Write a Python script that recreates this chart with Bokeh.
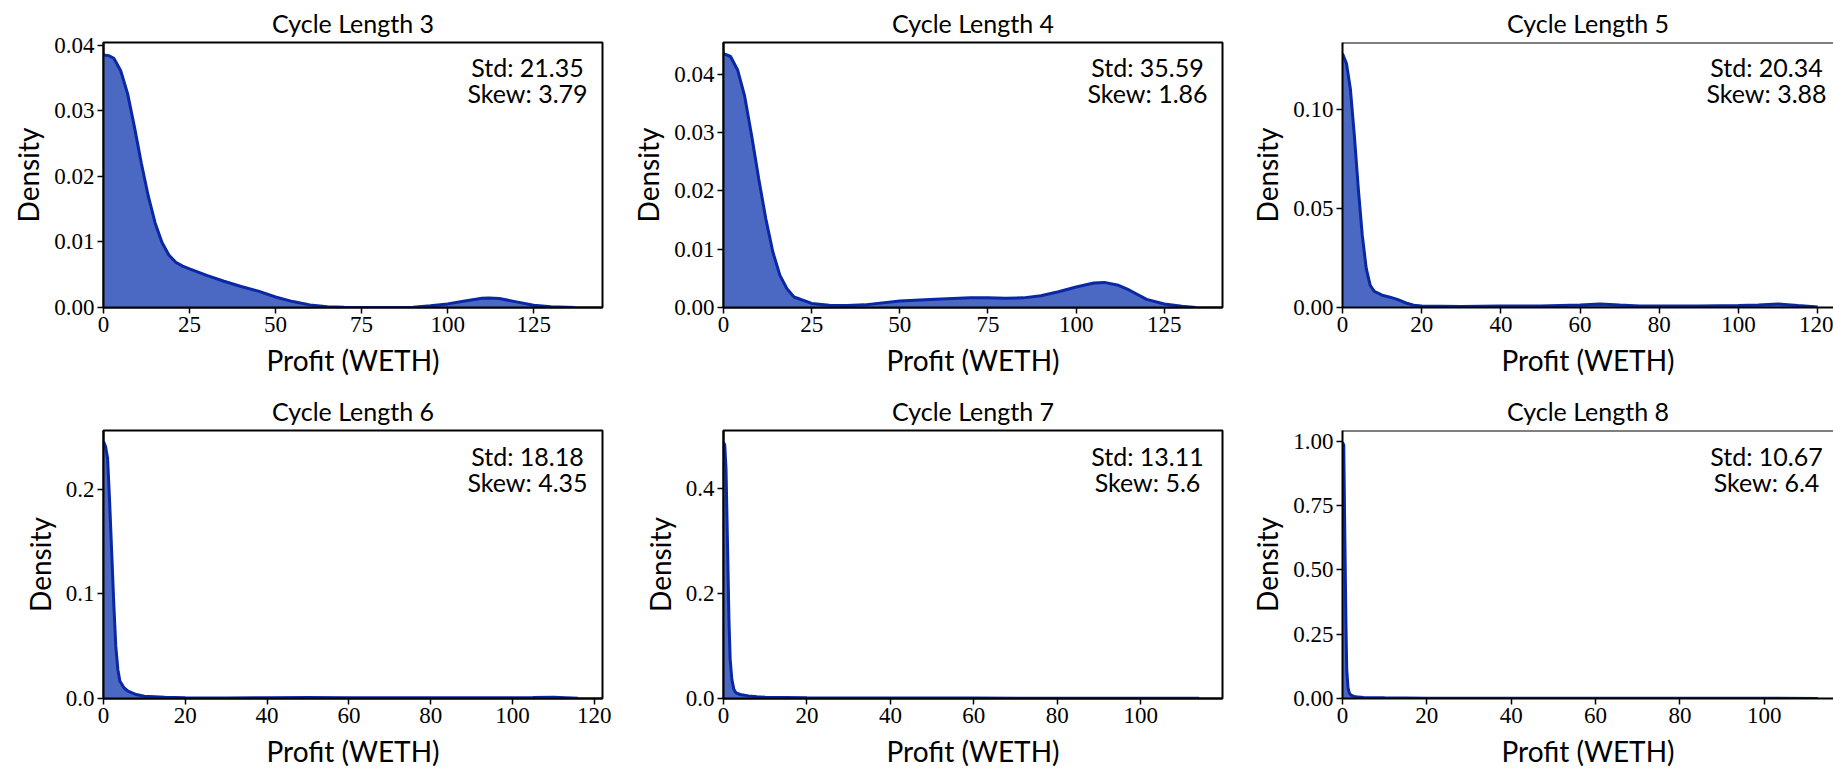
from bokeh.plotting import figure
from bokeh.layouts import column, row
from bokeh.models import FixedTicker, Span, Label, Range1d
from bokeh.embed import file_html
from bokeh.resources import INLINE

# ---------------- data ----------------
titles = ["Cycle Length 3", "Cycle Length 4", "Cycle Length 5",
          "Cycle Length 6", "Cycle Length 7", "Cycle Length 8"]
std_values = [21.35, 35.59, 20.34, 18.18, 13.11, 10.67]
skew_values = [3.79, 1.86, 3.88, 4.35, 5.6, 6.4]

x_limits = [145.0, 141.5, 126.0, 122.0, 119.6, 118.3]
y_limits = [0.0404, 0.0454, 0.1336, 0.2564, 0.5096, 1.0417]

cl3_x = [0, 1.5, 3, 5, 7, 9, 11, 13, 15, 17, 19, 21, 23, 25, 30, 35, 40, 45, 50, 55, 60, 65, 70,
         80, 90, 95, 100, 105, 110, 112, 115, 120, 125, 130, 137]
cl3_y = [0.0385, 0.0384, 0.0380, 0.0361, 0.0326, 0.0275, 0.0220, 0.0170, 0.0129, 0.0099, 0.0080,
         0.0069, 0.0063, 0.0059, 0.0049, 0.0040, 0.0032, 0.0025, 0.0016, 0.0009, 0.0004, 0.0001, 0.00002,
         0.0, 0.00005, 0.00025, 0.00055, 0.0010, 0.0014, 0.00146, 0.00136, 0.00086, 0.00035, 0.0001, 0.0]

cl4_x = [0, 2, 4, 6, 8, 10, 12, 14, 16, 18, 20, 25, 30, 35, 40, 50, 60, 70, 75, 80, 85, 90,
         95, 100, 105, 108, 112, 115, 120, 125, 130, 134]
cl4_y = [0.0435, 0.0430, 0.0407, 0.0362, 0.0294, 0.0220, 0.0152, 0.0095, 0.0055, 0.0032, 0.0018,
         0.0007, 0.0004, 0.00035, 0.00045, 0.0011, 0.0014, 0.00165, 0.00165, 0.0016, 0.00165, 0.0020,
         0.0027, 0.0035, 0.0042, 0.0043, 0.0038, 0.0030, 0.0014, 0.0006, 0.0002, 0.0]

cl5_x = [0, 1, 2, 3, 4, 5, 6, 7, 8, 10, 12, 14, 16, 18, 20, 30, 40, 50, 60, 65, 70, 75, 80,
         90, 100, 105, 110, 115, 120]
cl5_y = [0.128, 0.123, 0.110, 0.0865, 0.0597, 0.0363, 0.0196, 0.0112, 0.0082, 0.0062, 0.0052,
         0.0040, 0.0023, 0.0012, 0.0007, 0.0005, 0.0007, 0.0008, 0.0013, 0.0018, 0.0012, 0.0008,
         0.0008, 0.0008, 0.0010, 0.0013, 0.0018, 0.0010, 0.0003]

cl6_x = [0, 0.5, 1, 1.5, 2, 2.5, 3, 3.5, 4, 5, 6, 8, 10, 15, 20, 30, 40, 50, 60, 70, 80, 90,
         100, 105, 110, 116]
cl6_y = [0.2458, 0.241, 0.2298, 0.188, 0.140, 0.092, 0.0503, 0.028, 0.0167, 0.0103, 0.007,
         0.0038, 0.0022, 0.0013, 0.0006, 0.0005, 0.0007, 0.0010, 0.0008, 0.0006, 0.0006, 0.0006,
         0.0008, 0.0010, 0.0013, 0.0002]

cl7_x = [0, 0.3, 0.6, 1, 1.3, 1.6, 2, 2.5, 3, 4, 6, 8, 10, 15, 20, 40, 60, 80, 100, 114]
cl7_y = [0.487, 0.482, 0.437, 0.278, 0.151, 0.0745, 0.036, 0.017, 0.0108, 0.0076, 0.0050,
         0.0032, 0.0025, 0.0019, 0.0013, 0.0008, 0.0008, 0.0005, 0.0005, 0.0003]

cl8_x = [0, 0.3, 0.5, 0.8, 1, 1.3, 1.6, 2, 3, 5, 10, 20, 40, 60, 80, 100, 112.7]
cl8_y = [0.996, 0.985, 0.70, 0.309, 0.113, 0.042, 0.022, 0.013, 0.0065, 0.004, 0.0026,
         0.0013, 0.0010, 0.0008, 0.0008, 0.0008, 0.0003]

curves_x = [cl3_x, cl4_x, cl5_x, cl6_x, cl7_x, cl8_x]
curves_y = [cl3_y, cl4_y, cl5_y, cl6_y, cl7_y, cl8_y]

x_ticks_25 = [0, 25, 50, 75, 100, 125]
x_labels_25 = ["0", "25", "50", "75", "100", "125"]
x_ticks_20 = [0, 20, 40, 60, 80, 100, 120]
x_labels_20 = ["0", "20", "40", "60", "80", "100", "120"]
x_ticks = [x_ticks_25, x_ticks_25, x_ticks_20, x_ticks_20, x_ticks_20, x_ticks_20]
x_tick_labels = [x_labels_25, x_labels_25, x_labels_20, x_labels_20, x_labels_20, x_labels_20]

y_ticks = [[0, 0.01, 0.02, 0.03, 0.04],
           [0, 0.01, 0.02, 0.03, 0.04],
           [0, 0.05, 0.10],
           [0, 0.1, 0.2],
           [0, 0.2, 0.4],
           [0, 0.25, 0.5, 0.75, 1.0]]
y_tick_labels = [["0.00", "0.01", "0.02", "0.03", "0.04"],
                 ["0.00", "0.01", "0.02", "0.03", "0.04"],
                 ["0.00", "0.05", "0.10"],
                 ["0.0", "0.1", "0.2"],
                 ["0.0", "0.2", "0.4"],
                 ["0.00", "0.25", "0.50", "0.75", "1.00"]]

# ---------------- style / layout ----------------
FRAME_W = 499
FRAME_H = 268
col_w = [620, 620, 593]
col_left = [103, 103, 102]
col_right = [18, 18, 0]
row_h = [385, 386]
row_top = [39, 45]
row_bottom = [78, 73]

SANS = "Lato"
SERIF = "Liberation Serif"
LINE_C = "#0a27a6"
FILL_C = "#4b69c3"

figs = []
for i in range(6):
    r, c = divmod(i, 3)
    frame_w = col_w[c] - col_left[c] - col_right[c]
    x_end = x_limits[i] * frame_w / FRAME_W
    p = figure(width=col_w[c], height=row_h[r], output_backend="svg", toolbar_location=None,
               x_range=Range1d(0, x_end), y_range=Range1d(0, y_limits[i]),
               min_border_left=col_left[c], min_border_right=col_right[c],
               min_border_top=row_top[r], min_border_bottom=row_bottom[r],
               title=titles[i])
    p.xgrid.visible = False
    p.ygrid.visible = False
    p.background_fill_color = "white"
    p.border_fill_color = "white"
    if c == 2:
        p.outline_line_color = None
        p.add_layout(Span(location=y_limits[i], dimension="width", line_color="black", line_width=2))
    else:
        p.outline_line_color = "black"
        p.outline_line_width = 2
        p.outline_line_alpha = 1.0

    p.title.align = "center"
    p.title.text_font = SANS
    p.title.text_font_size = "25px"
    p.title.text_font_style = "normal"
    p.title.text_color = "black"
    p.title.standoff = 10

    for ax in (p.xaxis[0], p.yaxis[0]):
        ax.axis_line_width = 2
        ax.axis_line_color = "black"
        ax.major_tick_out = 6
        ax.major_tick_in = 0
        ax.major_tick_line_width = 1.5
        ax.minor_tick_line_color = None
        ax.major_label_text_font = SERIF
        ax.major_label_text_font_size = "23px"
        ax.major_label_text_color = "black"
        ax.axis_label_text_font = SANS
        ax.axis_label_text_font_size = "28px"
        ax.axis_label_text_font_style = "normal"
        ax.axis_label_text_color = "black"
        ax.major_label_standoff = 3
    p.xaxis.axis_label_standoff = 8
    p.yaxis.axis_label_standoff = 6

    p.xaxis.axis_label = "Profit (WETH)"
    p.yaxis.axis_label = "Density"
    p.xaxis.ticker = FixedTicker(ticks=x_ticks[i])
    p.xaxis.major_label_overrides = dict(zip(x_ticks[i], x_tick_labels[i]))
    p.yaxis.ticker = FixedTicker(ticks=y_ticks[i])
    p.yaxis.major_label_overrides = dict(zip(y_ticks[i], y_tick_labels[i]))

    p.varea(x=curves_x[i], y1=0, y2=curves_y[i], fill_color=FILL_C, fill_alpha=1.0)
    p.line(x=curves_x[i], y=curves_y[i], line_color=LINE_C, line_width=3)

    # annotation block: centred text lines, placed in pixel offsets from frame
    cx = 424.0 / FRAME_W * x_limits[i]
    y_std = y_limits[i] * (1 - 25.0 / FRAME_H)
    y_skew = y_limits[i] * (1 - 51.0 / FRAME_H)
    for yy, txt in ((y_std, f"Std: {std_values[i]}"), (y_skew, f"Skew: {skew_values[i]}")):
        p.add_layout(Label(x=cx, y=yy, text=txt, text_align="center", text_baseline="alphabetic",
                           text_font=SANS, text_font_size="25px", text_color="black"))
    figs.append(p)

layout = column(row(*figs[:3]), row(*figs[3:]))
open("out.html", "w").write(file_html(layout, INLINE))
